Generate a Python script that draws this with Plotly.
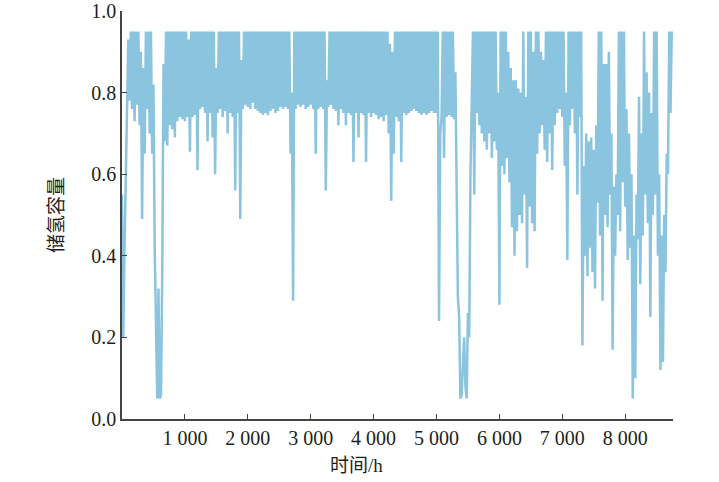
import plotly.graph_objects as go

# hourly storage level: one trough and one crest every 40 h
hours = list(range(0, 8760, 40))

troughs = [
    0.55, 0.42, 0.78, 0.78, 0.76, 0.73, 0.77, 0.72, 0.49, 0.65,
    0.76, 0.70, 0.65, 0.42, 0.05, 0.05, 0.36, 0.68, 0.67, 0.72,
    0.71, 0.69, 0.73, 0.74, 0.735, 0.73, 0.74, 0.655, 0.74, 0.745,
    0.61, 0.76, 0.765, 0.75, 0.68, 0.75, 0.69, 0.60, 0.75, 0.76,
    0.74, 0.755, 0.70, 0.75, 0.74, 0.56, 0.75, 0.49, 0.76, 0.77,
    0.765, 0.76, 0.775, 0.76, 0.755, 0.75, 0.745, 0.75, 0.745, 0.755,
    0.76, 0.75, 0.755, 0.765, 0.76, 0.765, 0.76, 0.65, 0.29, 0.76,
    0.77, 0.765, 0.77, 0.76, 0.765, 0.77, 0.76, 0.65, 0.76, 0.765,
    0.76, 0.56, 0.765, 0.77, 0.76, 0.755, 0.72, 0.76, 0.75, 0.72,
    0.75, 0.745, 0.63, 0.75, 0.69, 0.75, 0.745, 0.63, 0.75, 0.74,
    0.75, 0.745, 0.735, 0.74, 0.73, 0.745, 0.70, 0.535, 0.65, 0.74,
    0.73, 0.63, 0.75, 0.745, 0.75, 0.755, 0.76, 0.755, 0.75, 0.745,
    0.75, 0.745, 0.75, 0.755, 0.75, 0.75, 0.24, 0.74, 0.64, 0.74,
    0.745, 0.74, 0.735, 0.55, 0.25, 0.06, 0.20, 0.05, 0.20, 0.75,
    0.55, 0.75, 0.72, 0.70, 0.68, 0.66, 0.70, 0.64, 0.68, 0.66,
    0.28, 0.62, 0.60, 0.64, 0.58, 0.47, 0.40, 0.46, 0.50, 0.48,
    0.55, 0.37, 0.52, 0.48, 0.46, 0.65, 0.70, 0.72, 0.66, 0.63,
    0.70, 0.61, 0.72, 0.75, 0.76, 0.74, 0.62, 0.39, 0.72, 0.76,
    0.70, 0.55, 0.74, 0.18, 0.40, 0.35, 0.42, 0.36, 0.32, 0.53,
    0.45, 0.29, 0.50, 0.47, 0.55, 0.17, 0.40, 0.50, 0.46, 0.58,
    0.52, 0.39, 0.42, 0.05, 0.10, 0.44, 0.33, 0.45, 0.55, 0.48,
    0.25, 0.50, 0.55, 0.40, 0.12, 0.14, 0.36, 0.60, 0.75,
]

crests = [
    0.20, 0.62, 0.93, 0.95, 0.95, 0.95, 0.95, 0.90, 0.86, 0.95,
    0.95, 0.95, 0.82, 0.24, 0.32, 0.06, 0.87, 0.95, 0.95, 0.95,
    0.95, 0.95, 0.95, 0.95, 0.95, 0.95, 0.93, 0.95, 0.95, 0.95,
    0.95, 0.95, 0.95, 0.95, 0.95, 0.95, 0.95, 0.86, 0.95, 0.95,
    0.95, 0.95, 0.95, 0.95, 0.95, 0.95, 0.95, 0.88, 0.95, 0.95,
    0.95, 0.95, 0.95, 0.95, 0.95, 0.95, 0.95, 0.95, 0.95, 0.95,
    0.95, 0.95, 0.95, 0.95, 0.95, 0.95, 0.95, 0.80, 0.95, 0.95,
    0.95, 0.95, 0.95, 0.95, 0.95, 0.95, 0.95, 0.95, 0.95, 0.95,
    0.95, 0.83, 0.95, 0.95, 0.95, 0.95, 0.95, 0.95, 0.95, 0.95,
    0.95, 0.95, 0.95, 0.95, 0.95, 0.95, 0.95, 0.95, 0.95, 0.95,
    0.95, 0.95, 0.95, 0.95, 0.95, 0.95, 0.92, 0.90, 0.95, 0.95,
    0.95, 0.95, 0.95, 0.95, 0.95, 0.95, 0.95, 0.95, 0.95, 0.95,
    0.95, 0.95, 0.95, 0.95, 0.95, 0.95, 0.70, 0.95, 0.95, 0.95,
    0.95, 0.95, 0.85, 0.30, 0.05, 0.13, 0.08, 0.26, 0.60, 0.95,
    0.95, 0.95, 0.95, 0.95, 0.95, 0.95, 0.95, 0.95, 0.95, 0.80,
    0.95, 0.95, 0.95, 0.90, 0.86, 0.83, 0.83, 0.81, 0.80, 0.95,
    0.79, 0.95, 0.95, 0.90, 0.95, 0.95, 0.90, 0.88, 0.95, 0.95,
    0.95, 0.95, 0.95, 0.95, 0.95, 0.95, 0.80, 0.95, 0.95, 0.95,
    0.95, 0.95, 0.95, 0.62, 0.70, 0.68, 0.69, 0.66, 0.72, 0.95,
    0.95, 0.87, 0.87, 0.90, 0.70, 0.57, 0.60, 0.95, 0.95, 0.95,
    0.76, 0.70, 0.60, 0.45, 0.55, 0.79, 0.70, 0.95, 0.85, 0.80,
    0.75, 0.95, 0.95, 0.60, 0.45, 0.50, 0.65, 0.95, 0.95,
]

x_ticks = [1000, 2000, 3000, 4000, 5000, 6000, 7000, 8000]
x_labels = ["1 000", "2 000", "3 000", "4 000", "5 000", "6 000", "7 000", "8 000"]
y_ticks = [0.0, 0.2, 0.4, 0.6, 0.8, 1.0]
y_labels = ["0.0", "0.2", "0.4", "0.6", "0.8", "1.0"]

# interleave troughs and crests into one hourly trace
t, soc = [], []
for h, lo, hi in zip(hours, troughs, crests):
    t += [h, h + 20]
    soc += [lo, hi]

font_family = "Liberation Serif, Noto Sans CJK SC"
ink = "#231f20"

fig = go.Figure(go.Scatter(x=t, y=soc, mode="lines",
                           line=dict(color="#8bc4df", width=2.5),
                           showlegend=False))

axis_style = dict(showline=True, linecolor="#444", linewidth=1.5,
                  ticks="inside", ticklen=5, tickcolor="#444",
                  showgrid=False, zeroline=False, automargin=False,
                  ticklabeloverflow="allow")

fig.update_layout(
    width=719, height=482,
    margin=dict(l=122, r=46, t=11, b=63),
    paper_bgcolor="white", plot_bgcolor="white",
    font=dict(family=font_family, size=20, color=ink),
    xaxis=dict(range=[0, 8760], tickvals=x_ticks, ticktext=x_labels, **axis_style),
    yaxis=dict(range=[0, 1], tickvals=y_ticks, ticktext=y_labels, **axis_style),
    annotations=[
        dict(text="时间/h", xref="paper", yref="paper", x=0.425, y=-0.115,
             xanchor="center", yanchor="middle", showarrow=False,
             font=dict(size=19)),
        dict(text="储氢容量", xref="paper", yref="paper", x=-0.12, y=0.5,
             xanchor="center", yanchor="middle", textangle=-90,
             showarrow=False, font=dict(size=19)),
    ],
)

# drop the default 8 px body margin so the figure fills the window exactly
fig.write_html("out.html", config={"displayModeBar": False},
               post_script="document.body.style.margin = '0';")
